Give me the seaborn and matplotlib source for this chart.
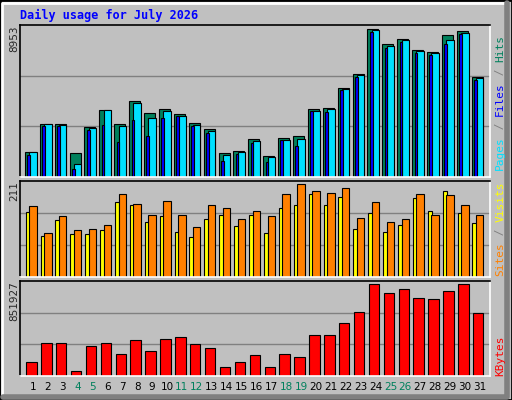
import numpy as np
import seaborn as sns
import matplotlib.pyplot as plt
from matplotlib.patches import Rectangle

days = list(range(1, 32))
weekend = [4, 5, 11, 12, 18, 19, 25, 26]
hits = [1497, 3194, 3194, 1436, 3030, 4060, 3194, 4606, 3860, 4121, 3818, 3272, 2909, 1436, 1576, 2303,
        1273, 2363, 2485, 4121, 4181, 5393, 6242, 8953, 8060, 8363, 7696, 7575, 8605, 8829, 6042]
files = [1497, 3194, 3133, 770, 2951, 4060, 3090, 4466, 3575, 4000, 3697, 3151, 2788, 1333, 1497, 2182,
         1194, 2242, 2303, 4000, 4121, 5333, 6163, 8890, 7939, 8284, 7617, 7496, 8284, 8708, 5981]
pages = [1333, 3090, 3090, 485, 2848, 3151, 2121, 3454, 2485, 3575, 3697, 3090, 2666, 970, 1394, 2060,
         909, 2242, 1879, 4000, 3939, 5272, 6042, 8770, 7817, 8181, 7496, 7374, 8042, 8647, 5878]
sites = [149, 94, 129, 97, 97, 108, 170, 163, 126, 138, 103, 90, 133, 140, 115, 142,
         101, 156, 165, 190, 165, 183, 110, 145, 103, 119, 181, 151, 197, 145, 122]
visits = [161, 101, 138, 108, 110, 119, 188, 167, 142, 172, 140, 113, 163, 158, 133, 151,
          138, 188, 211, 197, 192, 202, 135, 170, 124, 133, 190, 140, 186, 163, 142]
kbytes = [127000, 303500, 303500, 43400, 275600, 303500, 201300, 331400, 229100, 340600, 359200,
          294200, 257100, 80500, 127000, 191900, 80500, 201300, 173400, 377800, 377800, 489100,
          591400, 851927, 767700, 804800, 721100, 711800, 786100, 851927, 581800]

BG = "#C0C0C0"
sns.set_style("white", {"axes.facecolor": BG, "figure.facecolor": BG})
plt.rcParams["font.family"] = ["DejaVu Sans"]

fig = plt.figure(figsize=(5.12, 4.0), dpi=100)
x = np.array(days, dtype=float)


def panel(rect, ymax):
    ax = fig.add_axes(rect)
    ax.set_xlim(0.13, 31.72)
    ax.set_ylim(0, ymax)
    for g in (ymax / 3, 2 * ymax / 3):
        ax.axhline(g, color="#808080", lw=1, zorder=0)
    ax.set_yticks([])
    ax.set_xticks([])
    for s in ("left", "top"):
        ax.spines[s].set_color("black")
    for s in ("right", "bottom"):
        ax.spines[s].set_color("white")
    for s in ax.spines.values():
        s.set_linewidth(1.2)
    return ax


ek = dict(edgecolor="black", linewidth=0.8, align="edge")

ax1 = panel([0.039, 0.5575, 0.919, 0.38], 8953 * 152 / 147.7)
ax1.bar(x - 0.54, hits, width=0.74, color="#00805C", **ek)
ax1.bar(x - 0.25, files, width=0.5, color="#00E0FF", **ek)
ax1.bar(x - 0.38, pages, width=0.18, color="#0000FF", **ek)

ax2 = panel([0.039, 0.308, 0.919, 0.24], 211 * 96 / 92.4)
ax2.bar(x - 0.49, sites, width=0.3, color="#FFFF00", **ek)
ax2.bar(x - 0.25, visits, width=0.5, color="#FF8000", **ek)

ax3 = panel([0.039, 0.06, 0.919, 0.238], 851927 * 95.3 / 91.7)
ax3.bar(x - 0.45, kbytes, width=0.7, color="#FF0000", **ek)
ax3.set_xticks(x)
ax3.set_xticklabels([str(d) for d in days], fontsize=7.5)
ax3.tick_params(axis="x", length=0, pad=4)
for lab, d in zip(ax3.get_xticklabels(), days):
    lab.set_color("#00805C" if d in weekend else "black")

# max labels on the left
fig.text(0.028, 0.937, "8953", rotation=90, ha="center", va="top", fontsize=7.5)
fig.text(0.028, 0.548, "211", rotation=90, ha="center", va="top", fontsize=7.5)
fig.text(0.028, 0.298, "851927", rotation=90, ha="center", va="top", fontsize=7.5)

# vertical legends on the right, pieces placed one after another
renderer = fig.canvas.get_renderer()
mono = dict(family="DejaVu Sans Mono", fontsize=8, rotation=90, ha="center", va="bottom")


def stack(y0, pieces):
    yy = y0
    for txt, col in pieces:
        t = fig.text(0.977, yy, txt, color=col, **mono)
        bb = t.get_window_extent(renderer)
        yy += bb.height / fig.bbox.height


stack(0.575, [("Pages", "#00E0FF"), (" / ", "#808080"), ("Files", "#0000FF"),
              (" / ", "#808080"), ("Hits", "#00805C")])
stack(0.31, [("Sites", "#FF8000"), (" / ", "#808080"), ("Visits", "#FFFF00")])
stack(0.06, [("KBytes", "#FF0000")])

fig.text(0.039, 0.962, "Daily usage for July 2026", color="#0000FF", fontsize=8.5,
         family="DejaVu Sans Mono", fontweight="bold", va="center")

# 3D style outer frame
fig.patches.append(Rectangle((0, 0), 1, 1, transform=fig.transFigure, fill=False,
                             edgecolor="black", lw=2))
fig.lines.append(plt.Line2D([0.004, 0.004, 0.99], [0.012, 0.993, 0.993], transform=fig.transFigure,
                            color="white", lw=2))
fig.lines.append(plt.Line2D([0.006, 0.99, 0.99], [0.008, 0.008, 0.993], transform=fig.transFigure,
                            color="#808080", lw=4))

fig.savefig("out.png", dpi=100, facecolor=BG)
